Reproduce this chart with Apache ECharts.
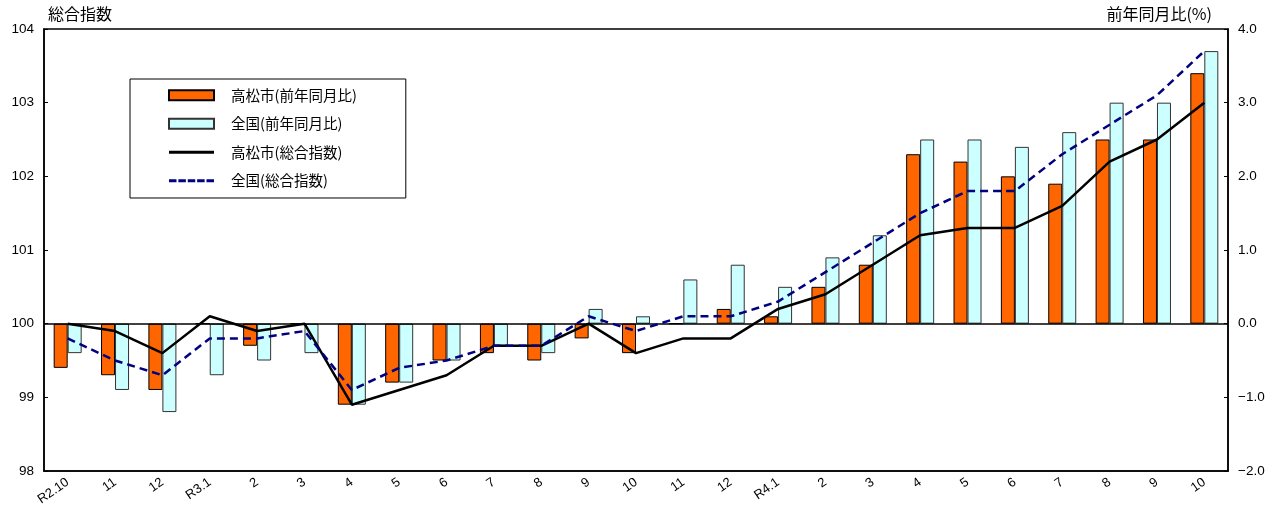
<!DOCTYPE html>
<html><head><meta charset="utf-8">
<script src="https://cdn.jsdelivr.net/npm/echarts@6/dist/echarts.min.js"></script>
<style>html,body{margin:0;padding:0;background:#fff}#c{width:1281px;height:508px}</style>
</head><body><div id="c"></div>
<script>
const categories = ['R2.10','11','12','R3.1','2','3','4','5','6','7','8','9','10','11','12','R4.1','2','3','4','5','6','7','8','9','10'];
const takamatsuYoY = [-0.6,-0.7,-0.9,0.0,-0.3,0.0,-1.1,-0.8,-0.5,-0.4,-0.5,-0.2,-0.4,0.0,0.2,0.1,0.5,0.8,2.3,2.2,2.0,1.9,2.5,2.5,3.4];
const nationalYoY = [-0.4,-0.9,-1.2,-0.7,-0.5,-0.4,-1.1,-0.8,-0.5,-0.3,-0.4,0.2,0.1,0.6,0.8,0.5,0.9,1.2,2.5,2.5,2.4,2.6,3.0,3.0,3.7];
const takamatsuIndex = [100.0,99.9,99.6,100.1,99.9,100.0,98.9,99.1,99.3,99.7,99.7,100.0,99.6,99.8,99.8,100.2,100.4,100.8,101.2,101.3,101.3,101.6,102.2,102.5,103.0];
const nationalIndex = [99.8,99.5,99.3,99.8,99.8,99.9,99.1,99.4,99.5,99.7,99.7,100.1,99.9,100.1,100.1,100.3,100.7,101.1,101.5,101.8,101.8,102.3,102.7,103.1,103.7];
const leftTicks = {min:98, max:104, interval:1};
const rightTicks = {min:-2, max:4, interval:1};

const chart = echarts.init(document.getElementById('c'));
const jp = '"Noto Sans CJK JP", sans-serif';
const num = '"Liberation Sans", Arial, sans-serif';
const solidIcon = 'path://M0,0H45V3H0Z';
const dashIcon = 'path://M0,0H7.5V3H0Z M9.375,0H16.875V3H9.375Z M18.75,0H26.25V3H18.75Z M28.125,0H35.625V3H28.125Z M37.5,0H45V3H37.5Z';
chart.setOption({
  animation:false,
  backgroundColor:'#fff',
  grid:{left:44,right:53,top:29,bottom:37,show:true,borderColor:'#000',borderWidth:1.5,backgroundColor:'transparent'},
  legend:{
    orient:'vertical', left:130, top:79,
    padding:[9,49,10,38], itemGap:14, itemWidth:45, itemHeight:10,
    borderColor:'#000', borderWidth:1, backgroundColor:'#fff',
    textStyle:{fontFamily:jp,fontSize:14.5,color:'#000',padding:[0,0,0,12]},
    data:[
      {name:'高松市(前年同月比)',icon:'rect'},
      {name:'全国(前年同月比)',icon:'rect'},
      {name:'高松市(総合指数)',icon:solidIcon,itemStyle:{color:'#000',borderWidth:0}},
      {name:'全国(総合指数)',icon:dashIcon,itemStyle:{color:'#000080',borderWidth:0}}
    ]
  },
  xAxis:{
    type:'category', data:categories, boundaryGap:true,
    axisLine:{show:true,onZero:false,lineStyle:{color:'#000',width:1.5}},
    axisTick:{show:false},
    axisLabel:{rotate:35,fontFamily:num,fontSize:13,color:'#000',margin:10,interval:0}
  },
  yAxis:[
    {type:'value',min:leftTicks.min,max:leftTicks.max,interval:leftTicks.interval,position:'left',
     name:'総合指数',nameLocation:'end',nameGap:7,
     nameTextStyle:{fontFamily:jp,fontSize:16,color:'#000',align:'left',padding:[0,0,0,4]},
     axisLine:{show:true,lineStyle:{color:'#000',width:1.5}},
     axisTick:{show:true,inside:true,length:4,lineStyle:{color:'#000'}},
     axisLabel:{fontFamily:num,fontSize:13.5,color:'#000',margin:10},
     splitLine:{show:false}},
    {type:'value',min:rightTicks.min,max:rightTicks.max,interval:rightTicks.interval,position:'right',
     name:'前年同月比(%)',nameLocation:'end',nameGap:7,
     nameTextStyle:{fontFamily:jp,fontSize:16,color:'#000',align:'right',padding:[0,16,0,0]},
     axisLine:{show:true,lineStyle:{color:'#000',width:1.5}},
     axisTick:{show:true,inside:true,length:4,lineStyle:{color:'#000'}},
     axisLabel:{fontFamily:num,fontSize:13.5,color:'#000',margin:10,
       formatter:v=>v.toFixed(1).replace('-','\u2212')},
     splitLine:{show:false}}
  ],
  series:[
    {name:'高松市(前年同月比)',type:'bar',yAxisIndex:1,data:takamatsuYoY,barWidth:14,barGap:'0%',
     itemStyle:{color:'#FF6600',borderColor:'#000',borderWidth:1},
     markLine:{silent:true,symbol:'none',label:{show:false},lineStyle:{color:'#000',width:1.5,type:'solid'},data:[{yAxis:0}],animation:false}},
    {name:'全国(前年同月比)',type:'bar',yAxisIndex:1,data:nationalYoY,barWidth:14,barGap:'0%',
     itemStyle:{color:'#CCFFFF',borderColor:'#333',borderWidth:1}},
    {name:'高松市(総合指数)',type:'line',yAxisIndex:0,data:takamatsuIndex,symbol:'none',
     lineStyle:{color:'#000',width:2.5,type:'solid'},itemStyle:{color:'#000'},z:5},
    {name:'全国(総合指数)',type:'line',yAxisIndex:0,data:nationalIndex,symbol:'none',
     lineStyle:{color:'#000080',width:2.5,type:[8,5]},itemStyle:{color:'#000080'},z:6}
  ]
});
</script></body></html>
